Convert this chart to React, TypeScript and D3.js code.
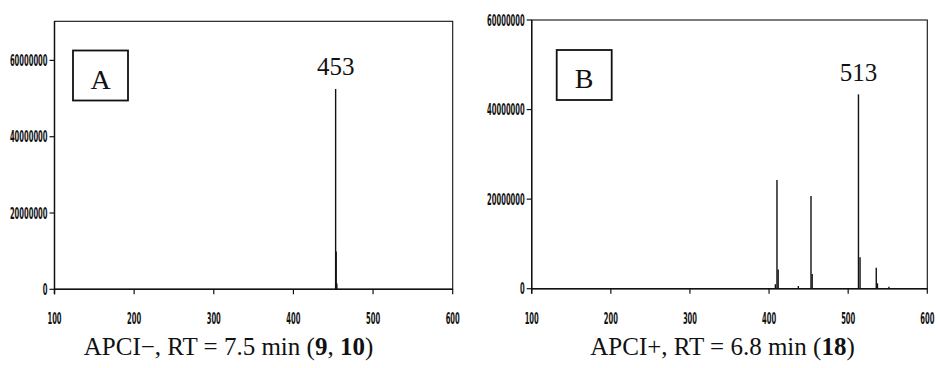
import React from "react";
import * as d3 from "d3";

// ---- data ----
const xTicks = [100, 200, 300, 400, 500, 600];
const yTicksA = [0, 20000000, 40000000, 60000000];
const yTicksB = [0, 20000000, 40000000, 60000000];

const mzA = [453, 453.7, 454.5];
const intensityA = [52500000, 9900000, 1500000];

const mzB = [408, 410, 411.5, 437, 453, 454.5, 513, 515, 535.5, 537, 551.5];
const intensityB = [1000000, 24300000, 4300000, 600000, 20700000, 3300000, 43400000, 7000000, 4700000, 1200000, 450000];

const panelLetters = ["A", "B"];
const peakLabels = ["453", "513"];
const peakLabelMz = [453, 513];
const captionPre = ["APCI\u2212, RT = 7.5 min (", "APCI+, RT = 6.8 min ("];
const captionBold = [["9", "10"], ["18"]];

const tickFont = "'Liberation Sans Narrow', 'DejaVu Sans Condensed', 'Liberation Sans', Arial, sans-serif";
const serif = "'Liberation Serif', 'Times New Roman', serif";

type PanelProps = {
  left: number; right: number; top: number; bottom: number;
  yMax: number; yTicks: number[]; mz: number[]; intensity: number[];
  letter: string; box: [number, number, number, number];
  peakLabel: string; peakMz: number; peakLabelY: number;
  captionX: number; pre: string; bold: string[];
};

function Panel(p: PanelProps) {
  const x = d3.scaleLinear().domain([100, 600]).range([p.left, p.right]);
  const y = d3.scaleLinear().domain([0, p.yMax]).range([p.bottom, p.top]);
  const digitW = 4.7;
  return (
    <g>
      {/* frame */}
      <rect x={p.left} y={p.top} width={p.right - p.left} height={p.bottom - p.top}
        fill="none" stroke="#111" strokeWidth={1.1} />
      <line x1={p.left} x2={p.right} y1={p.bottom} y2={p.bottom} stroke="#111" strokeWidth={1.4} />
      <line x1={p.left} x2={p.left} y1={p.top} y2={p.bottom + 5} stroke="#111" strokeWidth={1.4} />
      {/* y ticks */}
      {p.yTicks.map((t) => {
        const s = String(t);
        return (
          <g key={"y" + t}>
            <line x1={p.left - 5} x2={p.left} y1={y(t)} y2={y(t)} stroke="#111" strokeWidth={1.2} />
            <text x={p.left - 7} y={y(t) + 5.5} textAnchor="end" fontFamily={tickFont}
              fontSize={16} fontWeight="bold" fill="#111"
              textLength={s.length * digitW} lengthAdjust="spacingAndGlyphs">{s}</text>
          </g>
        );
      })}
      {/* x ticks */}
      {xTicks.map((t) => {
        const s = String(t);
        return (
          <g key={"x" + t}>
            <line x1={x(t)} x2={x(t)} y1={p.bottom} y2={p.bottom + 5} stroke="#111" strokeWidth={1.2} />
            <text x={x(t)} y={324} textAnchor="middle" fontFamily={tickFont}
              fontSize={16} fontWeight="bold" fill="#111"
              textLength={s.length * digitW} lengthAdjust="spacingAndGlyphs">{s}</text>
          </g>
        );
      })}
      {/* peaks */}
      {p.mz.map((m, i) => (
        <line key={"p" + i} x1={x(m)} x2={x(m)} y1={y(0)} y2={y(p.intensity[i])}
          stroke="#111" strokeWidth={1.4} />
      ))}
      {/* letter box */}
      <rect x={p.box[0]} y={p.box[1]} width={p.box[2]} height={p.box[3]} fill="#fff"
        stroke="#111" strokeWidth={1.8} />
      <text x={p.box[0] + p.box[2] / 2} y={p.box[1] + 38} textAnchor="middle"
        fontFamily={serif} fontSize={28} fill="#111">{p.letter}</text>
      {/* peak label */}
      <text x={x(p.peakMz)} y={p.peakLabelY} textAnchor="middle" fontFamily={serif}
        fontSize={25} fill="#111">{p.peakLabel}</text>
      {/* caption */}
      <text x={p.captionX} y={355} textAnchor="middle" fontFamily={serif} fontSize={25} fill="#111">
        {p.pre}
        {p.bold.map((b, i) => (
          <React.Fragment key={b}>
            {i > 0 ? <tspan>, </tspan> : null}
            <tspan fontWeight="bold">{b}</tspan>
          </React.Fragment>
        ))}
        {")"}
      </text>
    </g>
  );
}

export default function App() {
  return (
    <svg width={940} height={368} style={{ position: "absolute", left: 0, top: 0, background: "#fff" }}>
      <rect width={940} height={368} fill="#fff" />
      <Panel left={54.5} right={452.7} top={21.3} bottom={289.3} yMax={70250000}
        yTicks={yTicksA} mz={mzA} intensity={intensityA} letter={panelLetters[0]}
        box={[73, 50.5, 55, 50]} peakLabel={peakLabels[0]} peakMz={peakLabelMz[0]} peakLabelY={75}
        captionX={228.5} pre={captionPre[0]} bold={captionBold[0]} />
      <Panel left={531.7} right={927.3} top={20} bottom={288.7} yMax={60000000}
        yTicks={yTicksB} mz={mzB} intensity={intensityB} letter={panelLetters[1]}
        box={[556.7, 50, 55, 50]} peakLabel={peakLabels[1]} peakMz={peakLabelMz[1]} peakLabelY={81}
        captionX={722.5} pre={captionPre[1]} bold={captionBold[1]} />
    </svg>
  );
}
